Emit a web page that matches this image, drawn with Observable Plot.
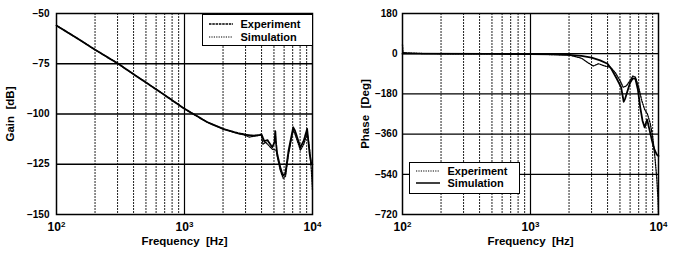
<!DOCTYPE html>
<html><head><meta charset="utf-8">
<script src="https://cdn.jsdelivr.net/npm/d3@7"></script>
<script src="https://cdn.jsdelivr.net/npm/@observablehq/plot@0.6"></script>
<style>
body{margin:0;background:#fff;}
#wrap{position:relative;width:674px;height:255px;display:flex;font-family:"Liberation Sans",Arial,sans-serif;font-weight:bold;color:#000;}
#wrap svg{display:block;}
g[aria-label="x-axis tick label"]{font-size:12px;}
g[aria-label="x-axis label"], g[aria-label="y-axis label"]{font-size:11.5px;}
.legend{position:absolute;border:1.3px solid #000;background:#fff;font-size:11px;box-sizing:border-box;}
.legend .row{position:absolute;display:flex;align-items:center;white-space:nowrap;}
.legend .row svg{margin-right:8px;}
</style></head>
<body>
<div id="wrap"></div>
<script>
// ---- data ----
const xTicks = [100, 1000, 10000];
const xTickExponents = ["2", "3", "4"];
const minorFreqs = [200,300,400,500,600,700,800,900,2000,3000,4000,5000,6000,7000,8000,9000];
const gainTicks = [-150, -125, -100, -75, -50];
const phaseTicks = [-720, -540, -360, -180, 0, 180];

const gainFreqExp = [100,150,200,300,400,500,700,1000,1500,2000,2500,3000,3500,4000,4200,4450,4850,5050,5120,5200,5300,5600,5870,6130,6500,7070,7300,8050,8550,9080,9500,9800,10000];
const gainExp     = [-56,-62.9,-68,-74.8,-80.2,-84.3,-90.6,-97.4,-104,-107.4,-109.2,-110.3,-110.8,-110.2,-113.5,-113,-116.5,-114,-108.5,-115,-119.8,-126.5,-130.6,-129.8,-118.2,-106.6,-108.3,-116.6,-113.2,-107.4,-119.8,-124.8,-125];
const gainFreqSim = [100,150,200,300,400,500,700,1000,1500,2000,2500,3000,3200,3600,4000,4100,4300,4850,5200,5300,5600,5900,6150,6500,7050,7300,8050,8550,9100,9500,9800,10000];
const gainSim     = [-56,-62.9,-68,-74.8,-80.2,-84.3,-90.6,-97.4,-104,-107.4,-109.4,-110.6,-111.5,-110.9,-110.5,-115,-114,-117.5,-118,-121,-128,-132,-131,-120,-108,-110,-118,-115,-109.5,-118,-128,-138];

const phaseFreqExp = [100,101,150,1000,2000,2500,2800,3100,3400,3800,4200,4600,5000,5300,5600,6000,6300,6600,7000,7400,7800,8200,8600,9000,9400,9700,9900,10000];
const phaseExp     = [40,5,0,-1,-6,-20,-40,-55,-45,-55,-60,-85,-120,-150,-145,-120,-100,-105,-150,-210,-250,-270,-310,-370,-470,-560,-650,-720];
const phaseFreqSim = [100,500,1000,1500,2000,2500,3000,3500,4000,4300,4700,5100,5350,5500,5700,6000,6300,6600,6900,7200,7500,7800,8150,8500,8900,9300,9700,10000];
const phaseSim     = [0,-1,-2,-3,-5,-10,-18,-30,-45,-70,-110,-150,-215,-200,-170,-130,-110,-112,-160,-240,-300,-330,-295,-340,-390,-430,-452,-458];

const zip = (fs, vs) => fs.map((f, i) => ({f, v: vs[i]}));

function chart({ml, mr, yDomain, yTicks, yLabel, yLabelOffset, yPad, exp, sim, expDash, simDash, expW, simW}) {
  const inner = yTicks.slice(1, -1);
  const svg = Plot.plot({
    width: 337, height: 255,
    marginLeft: ml, marginRight: mr, marginTop: 13, marginBottom: 41,
    style: {fontFamily: "Liberation Sans, Arial, sans-serif", fontSize: "10px", fontWeight: "bold", color: "#000", background: "#fff", overflow: "visible"},
    x: {type: "log", domain: [100, 10000], ticks: xTicks, tickFormat: d => "10^" + xTickExponents[xTicks.indexOf(d)], tickSize: 0, tickPadding: 8,
        label: "Frequency  [Hz]", labelAnchor: "center", labelArrow: "none", labelOffset: 30},
    y: {domain: yDomain, ticks: yTicks, tickSize: 0, tickPadding: yPad,
        label: yLabel, labelAnchor: "center", labelArrow: "none", labelOffset: yLabelOffset},
    marks: [
      Plot.ruleX(minorFreqs, {stroke: "#222", strokeWidth: 1, strokeDasharray: "2,1"}),
      Plot.ruleX([1000], {stroke: "#000", strokeWidth: 1.2}),
      Plot.ruleY(inner, {stroke: "#000", strokeWidth: 1.3}),
      Plot.line(zip(...sim), {x: "f", y: "v", stroke: "#000", strokeWidth: simW, strokeDasharray: simDash}),
      Plot.line(zip(...exp), {x: "f", y: "v", stroke: "#000", strokeWidth: expW, strokeDasharray: expDash}),
      Plot.frame({stroke: "#000", strokeWidth: 1.5})
    ]
  });
  // render "10^n" as 10 with a superscript exponent
  svg.querySelectorAll('g[aria-label="x-axis tick label"] text').forEach(t => {
    const [base, ex] = t.textContent.split("^");
    t.textContent = base;
    const sup = document.createElementNS("http://www.w3.org/2000/svg", "tspan");
    sup.setAttribute("dy", "-0.45em");
    sup.setAttribute("font-size", "8px");
    sup.textContent = ex;
    t.append(sup);
  });
  return svg;
}

const wrap = document.getElementById("wrap");
wrap.append(chart({ml: 56, mr: 25, yDomain: [-150, -50], yTicks: gainTicks, yLabel: "Gain  [dB]", yLabelOffset: 51, yPad: 7,
  exp: [gainFreqExp, gainExp], sim: [gainFreqSim, gainSim], expDash: "4,0.6", simDash: "1.4,1.2", expW: 1.8, simW: 1.3}));
wrap.append(chart({ml: 65, mr: 16, yDomain: [-720, 180], yTicks: phaseTicks, yLabel: "Phase  [Deg]", yLabelOffset: 42, yPad: 5,
  exp: [phaseFreqExp, phaseExp], sim: [phaseFreqSim, phaseSim], expDash: "1.4,1.2", simDash: null, expW: 1.3, simW: 1.8}));

function legend(left, top, w, h, rows) {
  const box = document.createElement("div");
  box.className = "legend";
  Object.assign(box.style, {left: left + "px", top: top + "px", width: w + "px", height: h + "px"});
  rows.forEach(([label, dash, sw, y]) => {
    const r = document.createElement("div");
    r.className = "row";
    Object.assign(r.style, {left: "6px", top: y + "px"});
    r.innerHTML = `<svg width="24" height="6"><line x1="0" x2="24" y1="3" y2="3" stroke="#000" stroke-width="${sw}" ${dash ? `stroke-dasharray="${dash}"` : ""}/></svg><span>${label}</span>`;
    box.append(r);
  });
  wrap.append(box);
}
legend(201.5, 14, 111, 31.5, [["Experiment", "2.5,0.8", 1.3, 3], ["Simulation", "1.2,1.2", 1.1, 16]]);
legend(408.5, 161.5, 111.5, 32, [["Experiment", "1.2,1.2", 1.1, 2], ["Simulation", null, 1.5, 14]]);
</script>
</body></html>
